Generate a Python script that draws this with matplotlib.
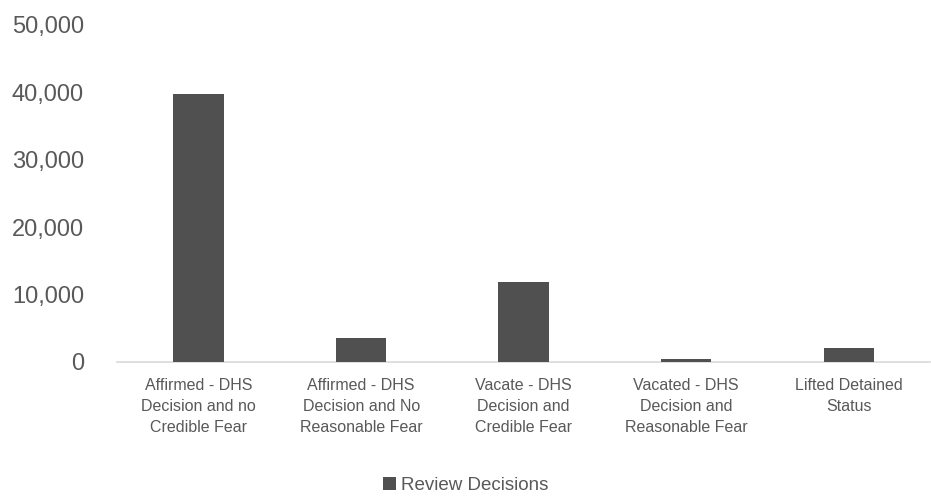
import numpy as np
import matplotlib.pyplot as plt
from matplotlib.ticker import FuncFormatter

# ================= DATA =================
categories = [
    "Affirmed - DHS\nDecision and no\nCredible Fear",
    "Affirmed - DHS\nDecision and No\nReasonable Fear",
    "Vacate - DHS\nDecision and\nCredible Fear",
    "Vacated - DHS\nDecision and\nReasonable Fear",
    "Lifted Detained\nStatus",
]
review_decisions = [39800, 3500, 11900, 450, 2000]
y_ticks = [0, 10000, 20000, 30000, 40000, 50000]

# ================= STYLE =================
plt.rcParams["font.family"] = ["Liberation Sans", "DejaVu Sans"]
text_color = "#595959"
bar_color = "#505050"

# ================= FIGURE =================
fig = plt.figure(figsize=(9.31, 4.97), dpi=100)
ax = fig.add_axes([0.126, 0.272, 0.873, 0.678])

x = np.arange(len(categories))
ax.bar(x, review_decisions, width=0.31, color=bar_color, label="Review Decisions", zorder=3)

ax.set_xlim(-0.5, len(categories) - 0.5)
ax.set_ylim(0, 50000)
ax.set_yticks(y_ticks)
ax.yaxis.set_major_formatter(FuncFormatter(lambda v, p: f"{int(v):,}"))
ax.set_xticks(x)
ax.set_xticklabels(categories, fontsize=11.5, color=text_color, linespacing=1.5)
ax.tick_params(axis="y", labelsize=17, colors=text_color, length=0, pad=24)
ax.tick_params(axis="x", length=0, pad=12)

for side in ["top", "right", "left"]:
    ax.spines[side].set_visible(False)
ax.spines["bottom"].set_color("#d9d9d9")
ax.spines["bottom"].set_linewidth(1.2)

leg = fig.legend(loc="lower center", bbox_to_anchor=(0.5, -0.028), frameon=False,
                 fontsize=13.5, handlelength=0.7, handleheight=0.7, handletextpad=0.25)
for t in leg.get_texts():
    t.set_color(text_color)

fig.savefig("out.png", dpi=100)
